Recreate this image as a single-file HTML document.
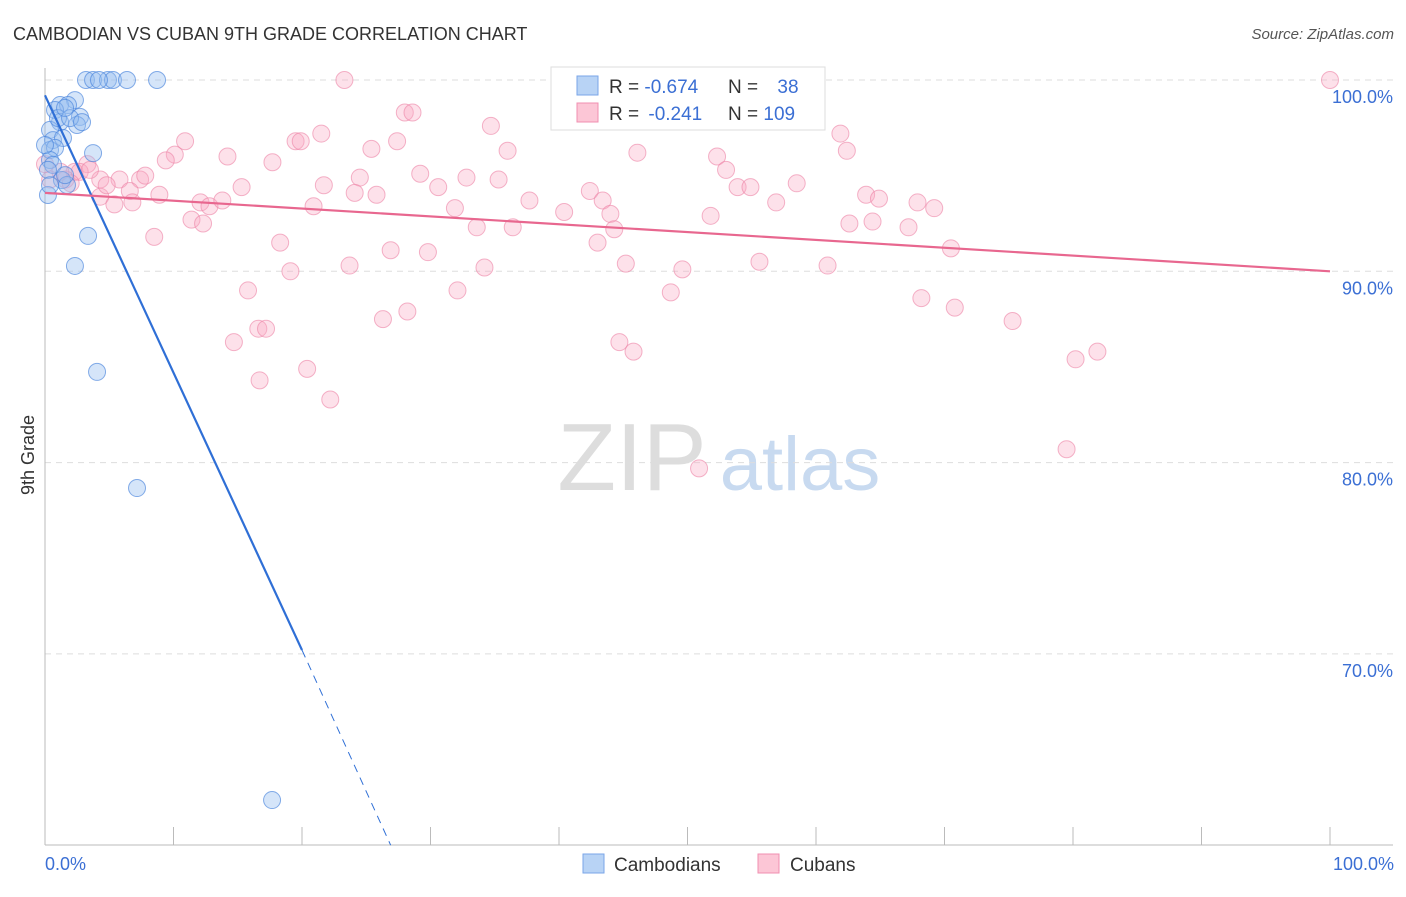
<!DOCTYPE html>
<html><head><meta charset="utf-8"><style>
body{margin:0;background:#fff;font-family:"Liberation Sans",sans-serif;}
svg text{font-family:"Liberation Sans",sans-serif;}
</style></head><body>
<svg id="c" width="1406" height="892" viewBox="0 0 1406 892">
<text x="13" y="40" font-size="18" fill="#333">CAMBODIAN VS CUBAN 9TH GRADE CORRELATION CHART</text>
<text x="1394" y="39" font-size="15" fill="#555" text-anchor="end" font-style="italic">Source: ZipAtlas.com</text>
<g>
<text x="632" y="490" font-size="96" fill="#ddd" font-family="Liberation Serif" text-anchor="middle">ZIP</text>
<text x="800" y="490" font-size="76" fill="#c8daf0" text-anchor="middle">atlas</text>
</g>
<g id="grid"></g><g id="axes"></g><g id="pts"></g><g id="trend"></g>
<text transform="translate(34,455) rotate(-90)" font-size="18" fill="#333" text-anchor="middle">9th Grade</text>
<text x="45" y="870" font-size="18" fill="#3b6fd4">0.0%</text>
<text x="1394" y="870" font-size="18" fill="#3b6fd4" text-anchor="end">100.0%</text>
<g>
<rect x="551" y="67" width="274" height="63" fill="#fff" stroke="#ddd"/>
<rect x="577" y="76" width="21" height="19" fill="#b8d3f5" stroke="#7aa6e8"/>
<rect x="577" y="103" width="21" height="19" fill="#fcc6d6" stroke="#f08fb0"/>
<text x="609" y="93" font-size="19" fill="#333">R = <tspan fill="#3b6fd4">-0.674</tspan></text>
<text x="728" y="93" font-size="19" fill="#333">N = <tspan fill="#3b6fd4" dx="14">38</tspan></text>
<text x="609" y="120" font-size="19" fill="#333">R = <tspan fill="#3b6fd4" dx="4">-0.241</tspan></text>
<text x="728" y="120" font-size="19" fill="#333">N = <tspan fill="#3b6fd4">109</tspan></text>
</g>
<g>
<rect x="583" y="854" width="21" height="19" fill="#b8d3f5" stroke="#7aa6e8"/>
<text x="614" y="871" font-size="19" fill="#333">Cambodians</text>
<rect x="758" y="854" width="21" height="19" fill="#fcc6d6" stroke="#f08fb0"/>
<text x="790" y="871" font-size="19" fill="#333">Cubans</text>
</g>
</svg>
<script>
const yTicks=[100,90,80,70];
const yTickLabels=["100.0%","90.0%","80.0%","70.0%"];
const xTicks=[0,10,20,30,40,50,60,70,80,90,100];
const blueX=[3.19,3.74,4.9,5.29,6.38,8.72,2.33,1.17,1.79,0.78,2.72,1.17,2.49,0.39,0.62,1.4,0.39,0.78,3.74,0.39,0.62,0.23,1.32,1.71,1.56,0.23,3.35,2.33,4.05,7.16,17.67,1.01,1.95,1.56,0,0.39,2.88,4.2];
const blueY=[100,100,100,100,100,100,98.95,98.69,98.69,98.43,98.07,97.8,97.65,97.39,96.86,96.97,96.34,96.45,96.18,95.82,95.56,95.3,94.77,94.51,95.03,93.99,91.85,90.28,84.74,78.67,62.36,98.01,98.01,98.54,96.6,94.5,97.8,100];
const pinkX=[100,23.3,28,28.6,34.7,10.9,21.5,19.5,19.9,27.4,25.4,36,46.1,62.4,61.9,10.1,9.4,14.2,17.7,52.3,53,3.3,2.3,4.3,5.8,7.4,7.8,24.5,29.2,32.8,35.3,58.5,21.7,15.3,30.6,42.4,53.9,54.9,24.1,25.8,43.4,6.6,8.9,4.3,5.4,6.8,12.1,12.8,13.8,20.9,31.9,37.7,40.4,44,51.8,56.9,63.9,64.9,67.9,69.2,11.4,12.3,33.6,36.4,44.3,62.6,64.4,67.2,8.5,18.3,26.9,29.8,43,70.5,19.1,23.7,34.2,45.2,49.6,55.6,60.9,15.8,32.1,48.7,68.2,70.8,28.2,26.3,16.6,17.2,75.3,14.7,44.7,45.8,81.9,80.2,20.4,16.7,22.2,79.5,50.9,0.4,1.6,2.7,0,1.2,4.8,3.5,2.0];
const pinkY=[100,100,98.3,98.3,97.6,96.8,97.2,96.8,96.8,96.8,96.4,96.3,96.2,96.3,97.2,96.1,95.8,96,95.7,96,95.3,95.6,95.2,94.8,94.8,94.8,95,94.9,95.1,94.9,94.8,94.6,94.5,94.4,94.4,94.2,94.4,94.4,94.1,94,93.7,94.2,94,93.9,93.5,93.6,93.6,93.4,93.7,93.4,93.3,93.7,93.1,93,92.9,93.6,94,93.8,93.6,93.3,92.7,92.5,92.3,92.3,92.2,92.5,92.6,92.3,91.8,91.5,91.1,91,91.5,91.2,90,90.3,90.2,90.4,90.1,90.5,90.3,89,89,88.9,88.6,88.1,87.9,87.5,87,87,87.4,86.3,86.3,85.8,85.8,85.4,84.9,84.3,83.3,80.7,79.7,94.8,94.8,95.2,95.6,95.2,94.5,95.3,94.6];
const blueTrend=[[0,99.2],[20,70.2],[26.9,60]];
const pinkTrend=[[0,94.1],[100,90.0]];
const X=v=>45+v*12.85, Y=v=>80+(100-v)*19.13;
const NS="http://www.w3.org/2000/svg";
function mk(t,a,p){const e=document.createElementNS(NS,t);for(const k in a)e.setAttribute(k,a[k]);document.getElementById(p).appendChild(e);return e;}
yTicks.forEach((t,i)=>{
 const l=mk('line',{x1:45,x2:1393,y1:Y(t),y2:Y(t),stroke:'#ddd','stroke-dasharray':'6,5'},'grid');
 
 
 const tx=mk('text',{x:1393,y:Y(t)+23,'font-size':18,fill:'#3b6fd4','text-anchor':'end'},'grid');
 tx.textContent=yTickLabels[i];
 
 
});
let a=mk('line',{x1:45,x2:45,y1:68,y2:845,stroke:'#bbb'},'axes');


a=mk('line',{x1:45,x2:1393,y1:845,y2:845,stroke:'#bbb'},'axes');


xTicks.forEach(t=>{const l=mk('line',{x1:X(t),x2:X(t),y1:827,y2:845,stroke:'#bbb'},'axes');
 
 });
pinkX.forEach((x,i)=>{const c=mk('circle',{cx:X(x),cy:Y(pinkY[i]),r:8.5,fill:'rgba(248,170,196,0.35)',stroke:'rgba(236,130,165,0.6)','stroke-width':1},'pts');
 
 });
blueX.forEach((x,i)=>{const c=mk('circle',{cx:X(x),cy:Y(blueY[i]),r:8.5,fill:'rgba(150,190,240,0.4)',stroke:'rgba(70,130,220,0.65)','stroke-width':1},'pts');
 
 });
let t=mk('line',{x1:X(blueTrend[0][0]),y1:Y(blueTrend[0][1]),x2:X(blueTrend[1][0]),y2:Y(blueTrend[1][1]),stroke:'#2f6fd6','stroke-width':2.2},'trend');


t=mk('line',{x1:X(blueTrend[1][0]),y1:Y(blueTrend[1][1]),x2:X(blueTrend[2][0]),y2:Y(blueTrend[2][1]),stroke:'#2f6fd6','stroke-width':1,'stroke-dasharray':'8,6'},'trend');


t=mk('line',{x1:X(pinkTrend[0][0]),y1:Y(pinkTrend[0][1]),x2:X(pinkTrend[1][0]),y2:Y(pinkTrend[1][1]),stroke:'#e8678f','stroke-width':2.2},'trend');


</script>
</body></html>
